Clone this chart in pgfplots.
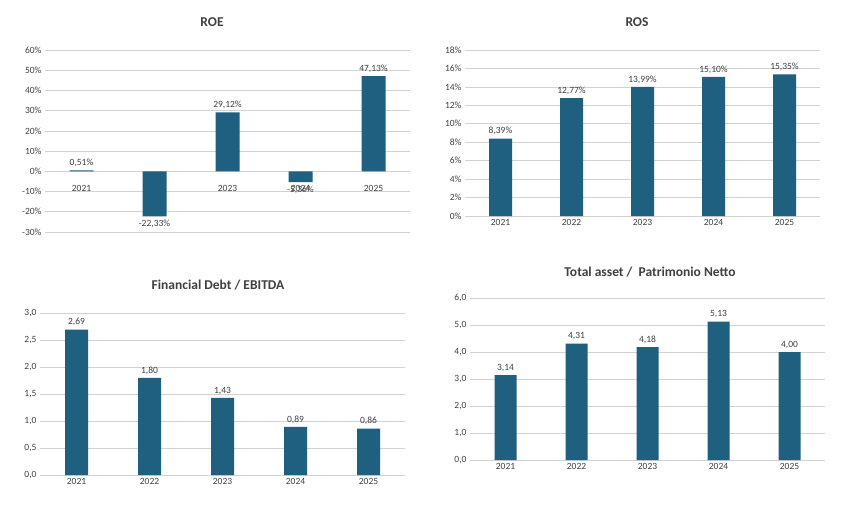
\documentclass[border=0pt]{standalone}
\usepackage{pgfplots}
\pgfplotsset{compat=1.18}
\usepackage{fontspec}
\setmainfont{Carlito}
\definecolor{bar}{HTML}{1F5F80}
\definecolor{lab}{HTML}{404040}
\pgfplotsset{
  common/.style={
    scale only axis, ybar, bar shift=0pt,
    xmin=-0.5, xmax=4.5, xtick={0,...,4},
    xticklabels={2021,2022,2023,2024,2025},
    major tick length=0pt,
    axis line style={draw=none},
    ymajorgrids, grid style={gray!35, line width=0.6pt},
    /pgf/number format/assume math mode=true,
    /pgf/number format/use comma,
    tick label style={font=\fontsize{9.5}{11}\selectfont, color=lab},
    point meta=explicit symbolic,
    nodes near coords,
    every node near coord/.append style={font=\fontsize{9.5}{11}\selectfont, color=lab},
    clip=false,
  },
}
\begin{document}
\begin{tikzpicture}[x=1pt,y=1pt]
\fill[white] (0,0) rectangle (857,-520);
% titles
\node[font=\bfseries\fontsize{13.5}{15}\selectfont, color=lab] at (212,-22) {ROE};
\node[font=\bfseries\fontsize{13.5}{15}\selectfont, color=lab] at (637,-22) {ROS};
\node[font=\bfseries\fontsize{13.5}{15}\selectfont, color=lab] at (218,-285) {Financial Debt / EBITDA};
\node[font=\bfseries\fontsize{13.5}{15}\selectfont, color=lab] at (650,-272) {Total asset /\ \ Patrimonio Netto};

\begin{axis}[common, at={(45pt,-232pt)}, anchor=south west, width=365pt, height=182pt,
  ymin=-30, ymax=60, ytick={-30,-20,...,60}, bar width=24pt,
  yticklabel={\pgfmathprintnumber{\tick}\%},
  x tick label style={yshift=50pt}]
\addplot[fill=bar, draw=none] coordinates {(0,0.51)[0,51\%] (1,-22.33)[] (2,29.12)[29,12\%] (3,-5.36)[] (4,47.13)[47,13\%]};
\addplot[draw=none, fill=none, every node near coord/.append style={anchor=north}] coordinates {(1,-22.33)[-22,33\%] (3,-5.36)[-5,36\%]};
\end{axis}

\begin{axis}[common, at={(465pt,-216pt)}, anchor=south west, width=355pt, height=166pt,
  ymin=0, ymax=18, ytick={0,2,...,18}, bar width=23pt,
  yticklabel={\pgfmathprintnumber{\tick}\%}]
\addplot[fill=bar, draw=none] coordinates {(0,8.39)[8,39\%] (1,12.77)[12,77\%] (2,13.99)[13,99\%] (3,15.10)[15,10\%] (4,15.35)[15,35\%]};
\end{axis}

\begin{axis}[common, at={(40pt,-475pt)}, anchor=south west, width=365pt, height=162pt,
  ymin=0, ymax=3, ytick={0,0.5,...,3}, bar width=23pt,
  yticklabel style={/pgf/number format/.cd, fixed, fixed zerofill, precision=1, use comma}]
\addplot[fill=bar, draw=none] coordinates {(0,2.69)[2,69] (1,1.80)[1,80] (2,1.43)[1,43] (3,0.89)[0,89] (4,0.86)[0,86]};
\end{axis}

\begin{axis}[common, at={(470pt,-460pt)}, anchor=south west, width=355pt, height=162pt,
  ymin=0, ymax=6, ytick={0,1,...,6}, bar width=22pt,
  yticklabel style={/pgf/number format/.cd, fixed, fixed zerofill, precision=1, use comma}]
\addplot[fill=bar, draw=none] coordinates {(0,3.14)[3,14] (1,4.31)[4,31] (2,4.18)[4,18] (3,5.13)[5,13] (4,4.00)[4,00]};
\end{axis}
\end{tikzpicture}
\end{document}
